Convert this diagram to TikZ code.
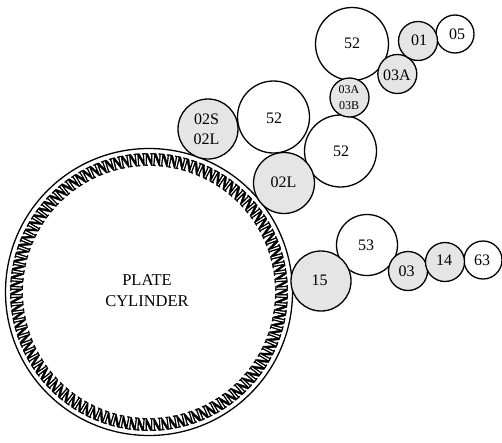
\documentclass[tikz,border=0pt]{standalone}
\usepackage{fontspec}
\usetikzlibrary{calc}
\setmainfont{Liberation Serif}
\newfontfamily\teethfont[FakeStretch=0.62,FakeBold=2]{Liberation Serif Bold}
\tikzset{
  roll/.style={circle,draw=black,line width=1.3pt,inner sep=0pt,minimum size=#1*2pt},
  shaded/.style={fill=black!10},
  lab/.style={font=\fontsize{16}{20.5}\selectfont,inner sep=0pt,align=center},
  smalllab/.style={font=\fontsize{12}{15.5}\selectfont,inner sep=0pt,align=center},
  toothn/.style={font=\teethfont\fontsize{19}{20}\selectfont,inner sep=0pt,text=black}
}
\begin{document}
\begin{tikzpicture}[x=1pt,y=-1pt]
\useasboundingbox (0,0) rectangle (502,442);
\node[roll=143.5] (plate) at (149,292) {};
\foreach \i in {1,...,104}{
  \pgfmathsetmacro{\a}{\i*3.4615385}
  \node[toothn,rotate=-\a-90] at ($(plate.center)+(\a:132.5)$) {N};
}
\node[lab,font=\fontsize{16.5}{21}\selectfont] (platetext) at (147,291) {PLATE\\CYLINDER};
\node[roll=30,shaded] (a02s) at (208,129) {};
\node[roll=36] (a52l) at (273.5,117) {};
\node[roll=36] (a52r) at (340.5,151) {};
\node[roll=30.5,shaded] (a02l) at (284,183) {};
\node[roll=36.5] (a52t) at (352,44) {};
\node[roll=19.5,shaded] (a03ab) at (349.5,97.5) {};
\node[roll=19.5,shaded] (a03a) at (397.3,74) {};
\node[roll=19] (a05) at (455,34) {};
\node[roll=19.5,shaded] (a01) at (418,41) {};
\node[roll=30.5] (a53) at (367,245) {};
\node[roll=30,shaded] (a15) at (321,281) {};
\node[roll=19.5,shaded] (a03) at (408,271) {};
\node[roll=19] (a63) at (483,260) {};
\node[roll=19.5,shaded] (a14) at (445,262) {};
\node[lab] at (206.5,129.5) {02S\\02L};
\node[lab] at (274,118) {52};
\node[lab] at (341,151.5) {52};
\node[lab] at (283.5,182) {02L};
\node[lab] at (352,43) {52};
\node[smalllab] at (349,97.5) {03A\\03B};
\node[lab] at (397,75) {03A};
\node[lab] at (419,40) {01};
\node[lab] at (457,34) {05};
\node[lab] at (366,245) {53};
\node[lab] at (319.5,280) {15};
\node[lab] at (406.5,271) {03};
\node[lab] at (444,260.5) {14};
\node[lab] at (482,260) {63};
\end{tikzpicture}
\end{document}
